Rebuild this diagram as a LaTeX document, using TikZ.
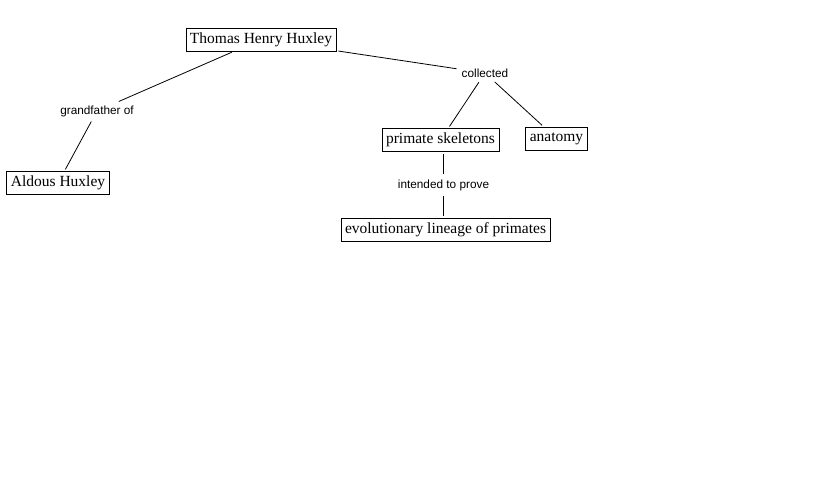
\documentclass[tikz,border=0pt]{standalone}
\usepackage{fontspec}
\setmainfont{Liberation Serif}
\setsansfont{Liberation Sans}
\usepackage{tikz}

\begin{document}
\begin{tikzpicture}[x=1pt, y=-1pt,
    concept/.style={rectangle, draw, line width=0.8pt, inner xsep=4pt, inner ysep=0pt,
        minimum height=23pt, font=\fontsize{15.5}{18}\selectfont},
    linkword/.style={inner sep=3pt, font=\sffamily\fontsize{11.8}{14}\selectfont},
    link/.style={line width=0.8pt, shorten <=2pt, shorten >=2pt}]

    \useasboundingbox (0,0) rectangle (836,500);

    % Concepts
    \node[concept] (thh) at (261, 39.5) {Thomas Henry Huxley};
    \node[concept] (aldous) at (58, 183) {Aldous Huxley};
    \node[concept] (skel) at (440.5, 140) {primate skeletons};
    \node[concept] (anat) at (556.5, 138.5) {anatomy};
    \node[concept] (evo) at (445.5, 230) {evolutionary lineage of primates};

    % Linking phrases
    \node[linkword] (grand) at (97, 111) {grandfather of};
    \node[linkword] (coll) at (485, 73) {collected};
    \node[linkword] (prove) at (443.5, 185) {intended to prove};

    % Links
    \draw[link] (thh) -- (grand);
    \draw[link] (grand) -- (aldous);
    \draw[link] (thh) -- (coll);
    \draw[link] (coll) -- (skel);
    \draw[link] (coll) -- (anat);
    \draw[link] (skel.south -| prove) -- (prove);
    \draw[link] (prove) -- (evo.north -| prove);

\end{tikzpicture}
\end{document}
